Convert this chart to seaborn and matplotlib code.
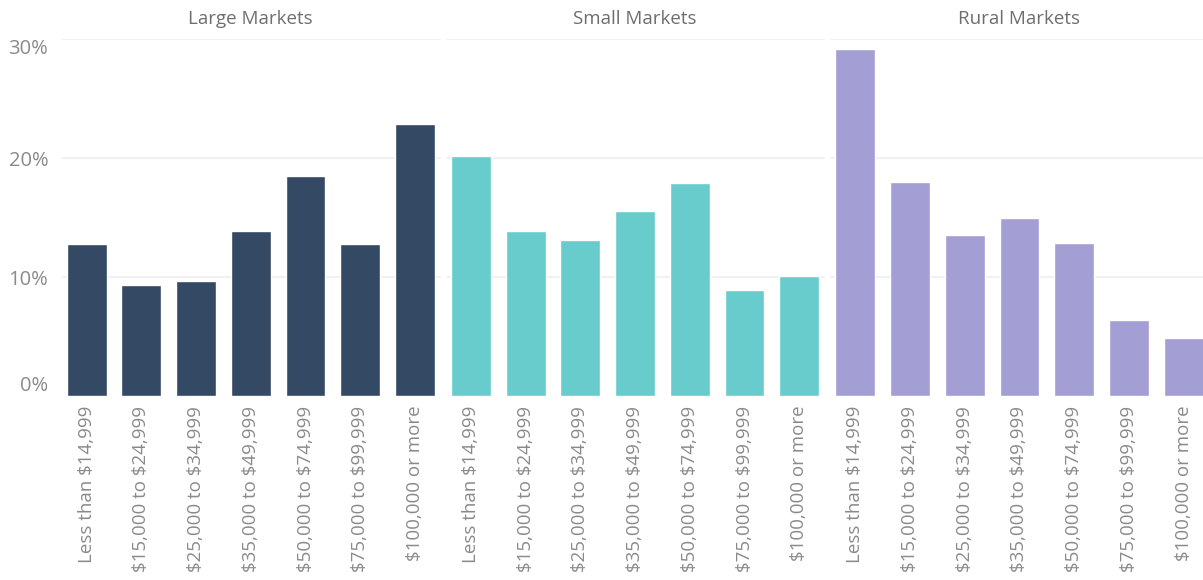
import pandas as pd
import matplotlib.pyplot as plt
import seaborn as sns

income = ["Less than $14,999", "$15,000 to $24,999", "$25,000 to $34,999",
          "$35,000 to $49,999", "$50,000 to $74,999", "$75,000 to $99,999",
          "$100,000 or more"]
markets = ["Large Markets", "Small Markets", "Rural Markets"]
large = [12.75, 9.3, 9.7, 13.9, 18.5, 12.75, 22.9]
small = [20.2, 13.9, 13.1, 15.6, 17.9, 8.9, 10.1]
rural = [29.2, 18.0, 13.5, 15.0, 12.9, 6.4, 4.85]
colors = ["#344964", "#67CCCB", "#A39ED4"]

df = pd.DataFrame({
    "market": [m for m in markets for _ in income],
    "income": income * 3,
    "share": large + small + rural,
})

sns.set_style("white")
plt.rcParams["font.family"] = ["Open Sans", "DejaVu Sans"]
plt.rcParams["text.parse_math"] = False

fig = plt.figure(figsize=(12.03, 5.8), dpi=100)
W, H = 1203, 580
lefts = [59.3, 443.6, 828.0]
panel_w = 383.0
top_px, bot_px = 39.3, 396.0

for i, m in enumerate(markets):
    ax = fig.add_axes([lefts[i] / W, 1 - bot_px / H, panel_w / W, (bot_px - top_px) / H])
    sub = df[df["market"] == m]
    sns.barplot(data=sub, x="income", y="share", color=colors[i], width=0.73,
                saturation=1, ax=ax, order=income)
    ax.set_xlim(-0.5, 6.5)
    ax.set_ylim(0, 30)
    for g in [10, 20, 30]:
        ax.axhline(g, xmin=0.008, xmax=0.994, color="#EFEFEF", lw=1.2, zorder=0)
    for s in ax.spines.values():
        s.set_visible(False)
    ax.set_xlabel("")
    ax.set_ylabel("")
    ax.set_title(m, color="#6E6E6E", fontsize=13.5, pad=11)
    ax.tick_params(axis="x", length=0, pad=7, labelsize=13.5, labelcolor="#8A8A8A")
    ax.set_xticks(range(len(income)))
    ax.set_xticklabels(income, rotation=90, va="top", ha="center")
    if i == 0:
        ax.set_yticks([0, 10, 20, 30])
        ax.set_yticklabels(["0%", "10%", "20%", "30%"])
        ax.tick_params(axis="y", length=0, pad=8, labelsize=14.5, labelcolor="#8A8A8A")
        labs = ax.get_yticklabels()
        labs[0].set_va("bottom")
        labs[-1].set_va("top")
    else:
        ax.set_yticks([])

fig.savefig("out.png", dpi=100)
